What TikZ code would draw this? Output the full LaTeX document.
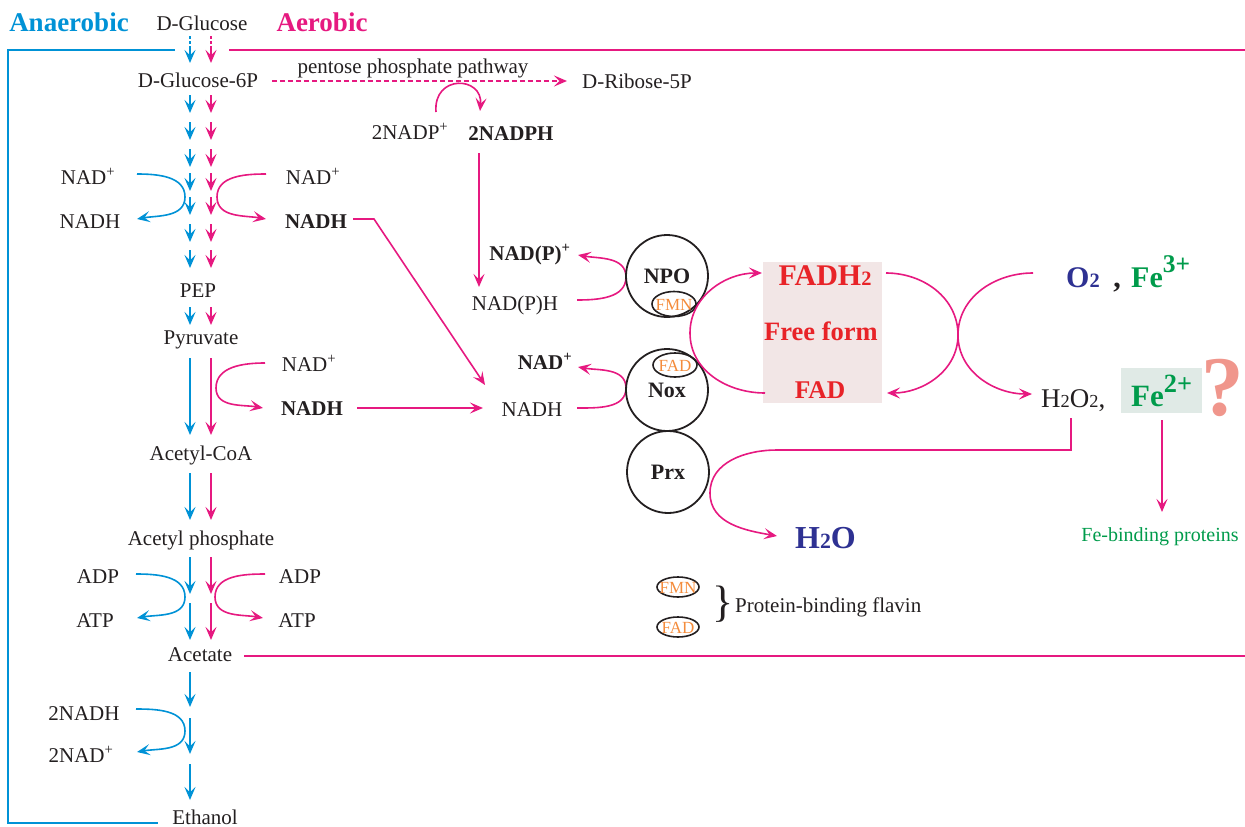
\documentclass[tikz,border=0pt]{standalone}
\usepackage{fontspec}
\setmainfont{Liberation Serif}
\usetikzlibrary{arrows.meta}
\definecolor{cblue}{RGB}{0,146,214}
\definecolor{cmag}{RGB}{230,25,128}
\definecolor{dblue}{RGB}{46,49,146}
\definecolor{cgreen}{RGB}{0,155,75}
\definecolor{cred}{RGB}{232,35,40}
\definecolor{corange}{RGB}{244,140,60}
\definecolor{pbox}{RGB}{242,230,230}
\definecolor{gbox}{RGB}{224,234,230}
\definecolor{qmark}{RGB}{240,150,140}
\definecolor{ctext}{RGB}{35,31,32}
\newcommand{\mysub}[1]{\scalebox{0.68}{#1}}
\newcommand{\mysup}[2]{\raisebox{#1}{\scalebox{0.85}{#2}}}
\begin{document}
\begin{tikzpicture}[x=1pt,y=-1pt,
 lab/.style={inner sep=0pt, anchor=base, text=ctext, font=\fontsize{21}{25}\selectfont},
 labb/.style={lab, font=\fontsize{21}{25}\selectfont\bfseries},
 bl/.style={draw=cblue, line width=1.6pt},
 mg/.style={draw=cmag, line width=1.6pt},
 ar/.style={-{Stealth[length=13pt,width=11pt,inset=5.5pt]}},
 circ/.style={circle, draw=ctext, line width=1.8pt, minimum size=82pt, inner sep=0pt, font=\fontsize{22}{26}\selectfont\bfseries, text=ctext},
 flv/.style={draw=ctext, line width=1.6pt},
 flvt/.style={inner sep=0pt, text=corange, font=\fontsize{17}{20}\selectfont}
]
\useasboundingbox (0,0) rectangle (1245,827);

% frame lines
\draw[bl] (175,50) -- (8,50) -- (8,823) -- (158,823);
\draw[mg] (229,50) -- (1245,50);
\draw[mg] (244,656) -- (1245,656);

% headings
\node[lab, font=\fontsize{27}{30}\selectfont\bfseries, text=cblue] (anaer) at (69,31) {Anaerobic};
\node[lab, font=\fontsize{27}{30}\selectfont\bfseries, text=cmag] (aer) at (322,31) {Aerobic};

% main column labels
\node[lab] (glc) at (202,30) {D-Glucose};
\node[lab] (g6p) at (198,87) {D-Glucose-6P};
\node[lab] (pep) at (198,297) {PEP};
\node[lab] (pyr) at (201,344) {Pyruvate};
\node[lab] (acoa) at (201,460) {Acetyl-CoA};
\node[lab] (acp) at (201,545) {Acetyl phosphate};
\node[lab] (acet) at (200,661) {Acetate};
\node[lab] (eth) at (205,824) {Ethanol};

% side labels
\node[lab] (nadL1) at (88,184) {NAD\textsuperscript{+}};
\node[lab] (nadhL1) at (90,228) {NADH};
\node[lab] (nadR1) at (313,184) {NAD\textsuperscript{+}};
\node[labb] (nadhR1) at (316,228) {NADH};
\node[lab] (nadR2) at (309,371) {NAD\textsuperscript{+}};
\node[labb] (nadhR2) at (312,415) {NADH};
\node[lab] (adpL) at (98,583) {ADP};
\node[lab] (atpL) at (95,627) {ATP};
\node[lab] (adpR) at (300,583) {ADP};
\node[lab] (atpR) at (297,627) {ATP};
\node[lab] (nadh2L) at (84,720) {2NADH};
\node[lab] (nad2L) at (81,762) {2NAD\textsuperscript{+}};

% column arrows
\draw[bl, dash pattern=on 3pt off 2pt] (190,36) -- (190,47);
\draw[bl,ar] (190,47) -- (190,63);
\draw[mg, dash pattern=on 3pt off 2pt] (211,36) -- (211,47);
\draw[mg,ar] (211,47) -- (211,63);
\foreach \t in {95,122,149,173,197,224,250,307} {
  \draw[bl,ar] (190,\t) -- (190,\t+18);
  \draw[mg,ar] (211,\t) -- (211,\t+18);
}
\draw[bl,ar] (190,358) -- (190,435);
\draw[mg,ar] (211,358) -- (211,435);
\draw[bl,ar] (190,473) -- (190,520);
\draw[mg,ar] (211,473) -- (211,520);
\draw[bl,ar] (190,557) -- (190,594);
\draw[mg,ar] (211,557) -- (211,594);
\draw[bl,ar] (190,603) -- (190,640);
\draw[mg,ar] (211,603) -- (211,640);
\draw[bl,ar] (190,672) -- (190,707);
\draw[bl,ar] (190,718) -- (190,754);
\draw[bl,ar] (190,764) -- (190,800);

% cofactor loops in column
\draw[bl,ar] (137,174) to[out=0,in=90] (185,197) to[out=-90,in=10] (137,219);
\draw[mg,ar] (266,174) to[out=180,in=90] (217,197) to[out=-90,in=170] (266,219);
\draw[mg,ar] (265,363) to[out=180,in=90] (216,388) to[out=-90,in=170] (263,408);
\draw[bl,ar] (136,574) to[out=0,in=90] (185,597) to[out=-90,in=10] (137,618);
\draw[mg,ar] (265,574) to[out=180,in=90] (215,597) to[out=-90,in=170] (263,618);
\draw[bl,ar] (136,709) to[out=0,in=90] (185,731) to[out=-90,in=10] (137,752);

% pentose phosphate pathway
\draw[mg,ar, dash pattern=on 5pt off 3pt] (272,81) -- (567,81);
\node[lab] (ppp) at (413,73) {pentose phosphate pathway};
\node[lab] (rib) at (637,88) {D-Ribose-5P};
\node[lab] (nadpA) at (410,139) {2NADP\textsuperscript{+}};
\node[labb] (nadphA) at (511,140) {2NADPH};
\draw[mg,ar] (436,112) .. controls (433,74) and (483,76) .. (480,111);
\draw[mg,ar] (479,153) -- (479,287);

% middle cofactors
\node[labb] (nadpp) at (530,260) {NAD(P)\textsuperscript{+}};
\node[lab] (nadph) at (515,310) {NAD(P)H};
\node[labb] (nadp3) at (545,369) {NAD\textsuperscript{+}};
\node[lab] (nadh3) at (532,416) {NADH};
\draw[mg,ar] (353,219) -- (374,219) -- (485,385);
\draw[mg,ar] (357,408) -- (483,408);
\draw[mg,ar] (577,300) to[out=0,in=-90] (626,277) to[out=90,in=-10] (578,255);
\draw[mg,ar] (577,408) to[out=0,in=-90] (626,388) to[out=90,in=-10] (578,367);

% enzymes
\node[circ] (npo) at (667,276) {NPO};
\node[circ] (nox) at (667,390) {Nox};
\node[circ] (prx) at (668,472) {Prx};
\draw[flv] (674,304) ellipse [x radius=22, y radius=12.5];
\node[flvt] (fmn) at (674,305) {FMN};
\draw[flv] (675,365) ellipse [x radius=22, y radius=12];
\node[flvt] (fad) at (675,366) {FAD};

% free flavin box
\node[fill=pbox, minimum width=119pt, minimum height=141pt, inner sep=0pt] (ffbox) at (822.5,332.5) {};
\node[lab, font=\fontsize{30}{34}\selectfont\bfseries, text=cred] (fadh2) at (825,285) {FADH\mysub{2}};
\node[lab, font=\fontsize{26.5}{30}\selectfont\bfseries, text=cred] (free) at (821,340) {Free form};
\node[lab, font=\fontsize{25.5}{30}\selectfont\bfseries, text=cred] (fadf) at (820,398) {FAD};
\draw[mg,ar] (765,393) to[out=180,in=-90] (690,333) to[out=90,in=180] (762,273);
\draw[mg,ar] (886,273) to[out=0,in=90] (958,335) to[out=-90,in=0] (887,393);
\draw[mg,ar] (1033,273) to[out=180,in=90] (958,335) to[out=-90,in=180] (1032,394);

% oxygen / iron
\node[lab, anchor=base west, font=\fontsize{30}{34}\selectfont\bfseries, text=dblue] (o2) at (1066,287) {O\mysub{2}};
\node[lab, font=\fontsize{30}{34}\selectfont\bfseries] (comma) at (1117,287) {,};
\node[lab, anchor=base west, font=\fontsize{30}{34}\selectfont\bfseries, text=cgreen] (fe3) at (1131,287) {Fe\mysup{0.5em}{3+}};
\node[lab, anchor=base west, font=\fontsize{27}{30}\selectfont] (h2o2) at (1041,407) {H\mysub{2}O\mysub{2},};
\node[fill=gbox, minimum width=81pt, minimum height=45pt, inner sep=0pt] (febox) at (1161.5,390.5) {};
\node[lab, anchor=base west, font=\fontsize{31}{34}\selectfont\bfseries, text=cgreen] (fe2) at (1131,406) {Fe\mysup{0.45em}{2+}};
\node[inner sep=0pt, font=\fontsize{85}{90}\selectfont\bfseries, text=qmark] (qm) at (1223,388) {?};
\draw[mg,ar] (1162,420) -- (1162,512);
\node[lab, font=\fontsize{20}{24}\selectfont, text=cgreen] (febp) at (1160,541) {Fe-binding proteins};

% peroxide to water
\draw[mg,ar] (1071,418) -- (1071,450) -- (777,450) to[out=180,in=90] (710,493) to[out=-90,in=170] (777,536);
\node[lab, anchor=base west, font=\fontsize{32}{36}\selectfont\bfseries, text=dblue] (h2o) at (795,548) {H\mysub{2}O};

% legend
\draw[flv] (678,587) ellipse [x radius=21, y radius=10];
\node[flvt] (lfmn) at (678,588) {FMN};
\draw[flv] (678,627) ellipse [x radius=21, y radius=10];
\node[flvt] (lfad) at (678,628) {FAD};
\node[inner sep=0pt, text=ctext, font=\fontsize{44}{48}\selectfont] (brace) at (723,604) {\}};
\node[lab, anchor=base west] (pbf) at (735,612) {Protein-binding flavin};
\end{tikzpicture}
\end{document}
